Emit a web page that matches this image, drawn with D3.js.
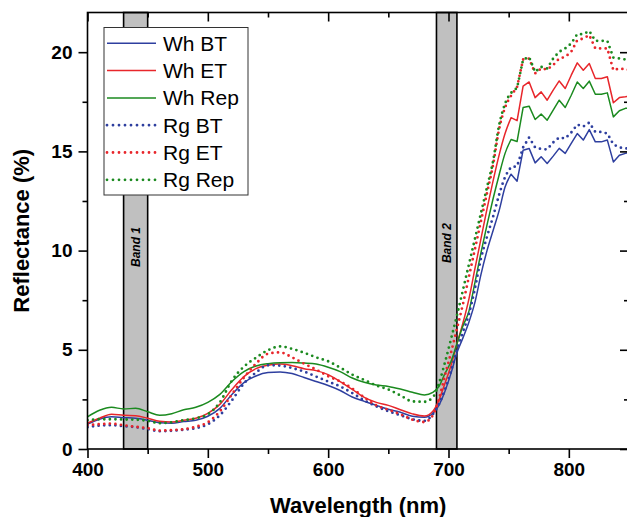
<!DOCTYPE html>
<html lang="en">
<head>
<meta charset="UTF-8">
<title>Reflectance spectra</title>
<style>
  body { margin: 0; background: #fff; }
  svg { display: block; font-family: "Liberation Sans", Arial, sans-serif; }
  .axis text { font-size: 19px; font-weight: bold; fill: #000; }
  .axis line { stroke: #000; stroke-width: 1.6; }
  .axis path { display: none; }
  .title { font-size: 22px; font-weight: bold; }
  .band-label { font-size: 12px; font-weight: bold; font-style: italic; }
  .legend text { font-size: 21px; }
</style>
</head>
<body>
<div id="chart"></div>
<script src="https://d3js.org/d3.v7.min.js"></script>
<script>
// wavelengths (nm): 10 nm steps in the visible, 5 nm steps in the red edge / NIR
const wavelength = [400,410,420,430,440,450,460,470,480,490,500,510,520,530,540,550,560,570,580,590,600,610,620,630,640,650,660,670,680,
  687,692,697,702,707,712,717,722,727,732,737,742,747,752,757,762,767,772,777,782,787,792,797,802,807,812,817,822,827,832,837,842,847,852];

const whBT = [1.25,1.5,1.62,1.58,1.55,1.45,1.32,1.3,1.38,1.45,1.65,2.05,2.75,3.35,3.68,3.85,3.88,3.8,3.6,3.4,3.2,2.95,2.62,2.4,2.2,2.0,1.85,1.65,1.6,
  1.8,2.2,2.9,3.8,4.85,5.6,6.4,7.4,8.8,10.0,11.0,12.0,13.2,13.85,13.5,15.06,15.15,14.42,14.73,14.39,14.76,15.15,14.9,15.4,15.9,15.57,16.1,15.48,15.48,15.57,14.47,14.81,14.9,14.95];
const whET = [1.3,1.55,1.75,1.7,1.68,1.55,1.4,1.36,1.45,1.55,1.8,2.25,3.0,3.65,4.05,4.22,4.28,4.2,4.05,3.95,3.75,3.4,3.0,2.6,2.35,2.2,1.98,1.77,1.66,
  1.9,2.45,3.3,4.2,5.3,6.35,7.57,9.1,10.6,12.1,13.5,14.8,15.9,16.7,16.55,18.29,18.5,17.71,18.0,17.58,18.09,18.55,18.17,18.84,19.46,19.09,19.43,18.67,18.67,18.76,17.45,17.71,17.75,17.8];
const whRep = [1.62,1.95,2.1,2.02,2.05,1.88,1.7,1.78,1.98,2.1,2.35,2.75,3.4,3.9,4.18,4.3,4.35,4.36,4.33,4.28,4.12,3.9,3.58,3.36,3.22,3.15,3.02,2.86,2.72,
  2.85,3.15,3.8,4.4,5.3,6.2,6.95,8.4,9.9,11.3,12.6,13.8,14.9,15.6,15.5,17.21,17.28,16.61,16.88,16.57,17.08,17.58,17.21,17.83,18.5,18.17,18.54,17.88,17.88,17.95,16.74,17.05,17.17,17.2];
const rgBT = [1.1,1.18,1.2,1.15,1.1,1.0,0.9,0.92,0.97,1.05,1.25,1.7,2.45,3.3,3.85,4.22,4.2,4.08,3.9,3.65,3.4,3.15,2.82,2.45,2.15,1.9,1.7,1.5,1.42,
  1.75,2.25,3.0,3.9,5.0,5.9,6.8,8.1,9.6,10.7,11.7,12.8,13.7,14.2,14.25,15.2,15.7,15.2,15.12,15.1,15.45,15.7,15.65,15.95,16.35,16.25,16.45,15.98,15.98,15.9,15.35,15.2,15.15,15.15];
const rgET = [1.2,1.25,1.28,1.2,1.12,1.05,0.93,0.95,1.0,1.12,1.35,1.9,2.75,3.6,4.3,4.8,4.87,4.62,4.3,4.0,3.67,3.4,3.05,2.6,2.2,1.98,1.75,1.48,1.36,
  1.7,2.5,3.7,4.84,6.05,7.3,8.69,10.08,11.49,12.9,14.3,16.1,17.2,17.8,18.25,19.63,19.68,18.93,19.18,19.13,19.35,19.68,19.76,20.02,20.6,20.69,20.86,20.19,20.19,20.19,19.09,19.18,19.13,19.1];
const rgRep = [1.45,1.5,1.5,1.49,1.48,1.42,1.3,1.35,1.45,1.55,1.75,2.35,3.45,4.15,4.6,4.98,5.17,5.05,4.85,4.62,4.42,4.1,3.75,3.48,3.2,3.0,2.7,2.4,2.38,
  2.6,3.3,4.35,5.52,6.73,8.01,9.31,10.6,11.9,13.19,14.49,16.3,17.4,17.95,18.2,19.63,19.75,19.0,19.26,19.18,19.68,20.02,20.19,20.44,20.91,20.91,21.07,20.57,20.57,20.57,19.73,19.68,19.63,19.6];

const seriesNames = ["Wh BT", "Wh ET", "Wh Rep", "Rg BT", "Rg ET", "Rg Rep"];
const seriesValues = [whBT, whET, whRep, rgBT, rgET, rgRep];

const bandRanges = [[430, 450], [690, 707]];
const bandNames = ["Band 1", "Band 2"];

const xTicks = [400, 500, 600, 700, 800];
const xMinorTicks = [450, 550, 650, 750, 850];
const yTicks = [0, 5, 10, 15, 20];
const yMinorTicks = [2.5, 7.5, 12.5, 17.5];

// styles per series
const colors = ["#2e3f9f", "#e8262b", "#1b8a1f", "#2e3f9f", "#e8262b", "#1b8a1f"];
const dotted = [false, false, false, true, true, true];

const W = 627, H = 517;
const pLeft = 87.5, pRight = 629, pTop = 12.5, pBottom = 449;

const svg = d3.select("#chart").append("svg")
  .attr("width", W).attr("height", H);

const x = d3.scaleLinear().domain([400, 850]).range([pLeft, pRight]);
const y = d3.scaleLinear().domain([0, 22]).range([pBottom, pTop]);

svg.append("defs").append("clipPath").attr("id", "plot-clip")
  .append("rect").attr("x", pLeft).attr("y", pTop)
  .attr("width", pRight - pLeft).attr("height", pBottom - pTop);

// grey bands
const bandG = svg.append("g");
bandRanges.forEach((b, i) => {
  bandG.append("rect")
    .attr("x", x(b[0])).attr("y", pTop)
    .attr("width", x(b[1]) - x(b[0])).attr("height", pBottom - pTop)
    .attr("fill", "#c0c0c0").attr("stroke", "#000").attr("stroke-width", 1.6);
  const cx = (x(b[0]) + x(b[1])) / 2 + 4.5;
  const cy = i === 0 ? y(10.18) : y(10.38);
  bandG.append("text").attr("class", "band-label")
    .attr("transform", `translate(${cx},${cy}) rotate(-90)`)
    .attr("text-anchor", "middle")
    .text(bandNames[i]);
});

// lines: smooth up to the red edge, straight segments in the jagged NIR part
const splitIdx = wavelength.indexOf(752);
const pts = vals => vals.map((v, i) => [wavelength[i], v]);
const smoothLine = d3.line().x(d => x(d[0])).y(d => y(d[1])).curve(d3.curveMonotoneX);
const straightLine = d3.line().x(d => x(d[0])).y(d => y(d[1]));

const lineG = svg.append("g").attr("clip-path", "url(#plot-clip)");
seriesValues.forEach((vals, k) => {
  const p = pts(vals);
  const d = smoothLine(p.slice(0, splitIdx + 1)) + straightLine(p.slice(splitIdx)).replace(/^M[^L]*/, "");
  lineG.append("path")
    .attr("fill", "none")
    .attr("stroke", colors[k])
    .attr("stroke-width", dotted[k] ? 2.8 : 1.5)
    .attr("stroke-linecap", dotted[k] ? "round" : "butt")
    .attr("stroke-linejoin", "round")
    .attr("stroke-dasharray", dotted[k] ? "0 5.6" : null)
    .attr("d", d);
});

// axes
svg.append("g").attr("class", "axis")
  .attr("transform", `translate(0,${pBottom})`)
  .call(d3.axisBottom(x).tickValues(xTicks).tickSize(9).tickSizeOuter(0).tickPadding(5));
svg.append("g").attr("class", "axis")
  .attr("transform", `translate(0,${pBottom})`)
  .call(d3.axisBottom(x).tickValues(xMinorTicks).tickSize(5).tickSizeOuter(0).tickFormat(""));
svg.append("g").attr("class", "axis")
  .attr("transform", `translate(0,${pTop})`)
  .call(d3.axisBottom(x).tickValues(xTicks).tickSize(9).tickSizeOuter(0).tickFormat(""));
svg.append("g").attr("class", "axis")
  .attr("transform", `translate(0,${pTop})`)
  .call(d3.axisBottom(x).tickValues(xMinorTicks).tickSize(5).tickSizeOuter(0).tickFormat(""));

svg.append("g").attr("class", "axis")
  .attr("transform", `translate(${pLeft},0)`)
  .call(d3.axisLeft(y).tickValues(yTicks).tickSize(9).tickSizeOuter(0).tickPadding(6));
svg.append("g").attr("class", "axis")
  .attr("transform", `translate(${pLeft},0)`)
  .call(d3.axisLeft(y).tickValues(yMinorTicks).tickSize(5).tickSizeOuter(0).tickFormat(""));
svg.append("g").attr("class", "axis")
  .attr("transform", `translate(${pRight},0)`)
  .call(d3.axisLeft(y).tickValues(yTicks).tickSize(9).tickSizeOuter(0).tickFormat(""));
svg.append("g").attr("class", "axis")
  .attr("transform", `translate(${pRight},0)`)
  .call(d3.axisLeft(y).tickValues(yMinorTicks).tickSize(5).tickSizeOuter(0).tickFormat(""));

// frame
svg.append("rect")
  .attr("x", pLeft).attr("y", pTop)
  .attr("width", pRight - pLeft).attr("height", pBottom - pTop)
  .attr("fill", "none").attr("stroke", "#000").attr("stroke-width", 1.6);

// axis titles
svg.append("text").attr("class", "title")
  .attr("x", (pLeft + pRight) / 2).attr("y", 513)
  .attr("text-anchor", "middle")
  .text("Wavelength (nm)");
svg.append("text").attr("class", "title")
  .attr("transform", `translate(29,${(pTop + pBottom) / 2}) rotate(-90)`)
  .attr("text-anchor", "middle")
  .text("Reflectance (%)");

// legend
const leg = svg.append("g").attr("class", "legend");
leg.append("rect")
  .attr("x", 104).attr("y", 27.5).attr("width", 144).attr("height", 167.5)
  .attr("fill", "#fff").attr("stroke", "#333").attr("stroke-width", 1);
seriesNames.forEach((name, k) => {
  const ly = 43.3 + k * 27.3;
  leg.append("line")
    .attr("x1", 107).attr("x2", 156).attr("y1", ly).attr("y2", ly)
    .attr("stroke", colors[k])
    .attr("stroke-width", dotted[k] ? 2.8 : 1.5)
    .attr("stroke-linecap", dotted[k] ? "round" : "butt")
    .attr("stroke-dasharray", dotted[k] ? "0 6" : null);
  leg.append("text")
    .attr("x", 163).attr("y", ly + 7.5)
    .text(name);
});
</script>
</body>
</html>
